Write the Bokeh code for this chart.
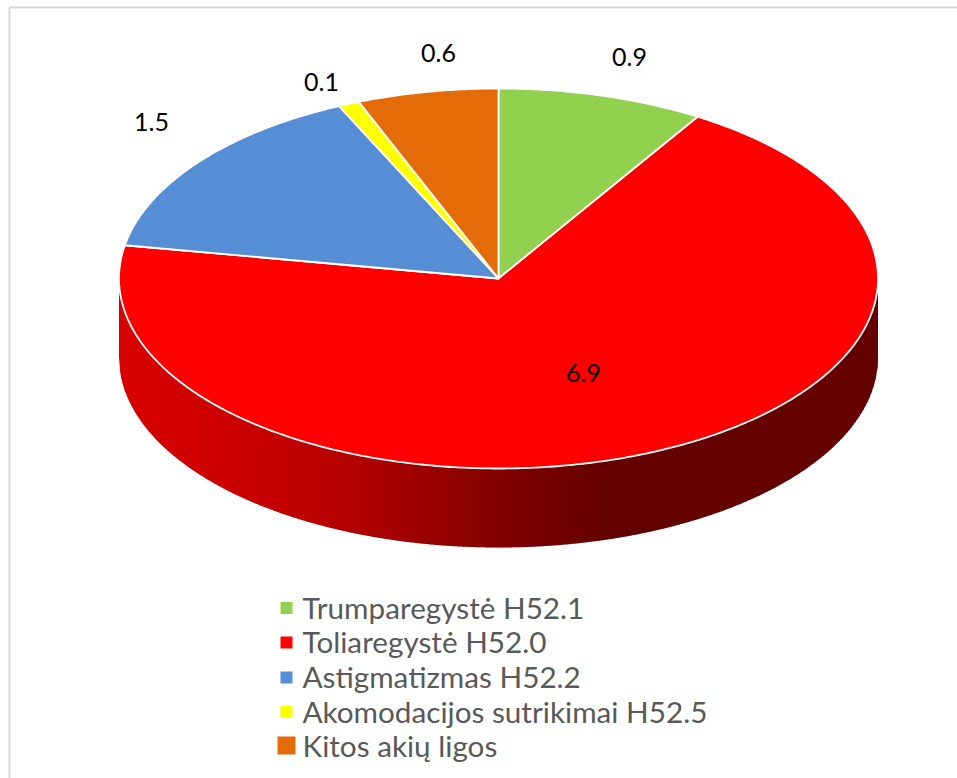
import numpy as np
from bokeh.core.properties import value
from bokeh.embed import file_html
from bokeh.models import ColumnDataSource, Range1d
from bokeh.plotting import figure
from bokeh.resources import INLINE

categories = ["Trumparegystė H52.1", "Toliaregystė H52.0", "Astigmatizmas H52.2",
              "Akomodacijos sutrikimai H52.5", "Kitos akių ligos"]
# slice sizes as read from the drawn wedges; they round to the printed labels
values = [0.88, 6.90, 1.53, 0.09, 0.60]
labels = ["0.9", "6.9", "1.5", "0.1", "0.6"]
colors = ["#92d050", "#ff0000", "#558ed5", "#ffff00", "#e36c09"]

# layout (pixels of the page)
W, H = 957, 778
CX, CY, RX, RY, DEPTH = 498.0, 278.0, 379.5, 190.0, 79.0
label_x = [629, 583, 151, 321, 438]
label_y = [56, 372, 121, 81, 52]
legend_y = [607.5, 642, 677, 711.5, 745]
legend_text_y = [606.5, 641, 676, 710.5, 744.5]
swatch_size = [12, 12, 12, 12, 18]

# side gradient: fraction across the disc -> red channel
grad_pos = [0.0, 0.15, 0.30, 0.476, 0.55, 0.634, 1.0]
grad_red = [216, 204, 180, 135, 118, 102, 100]

p = figure(width=W, height=H, x_range=Range1d(0, W), y_range=Range1d(H, 0),
           toolbar_location=None, output_backend="svg", min_border=0,
           background_fill_color="white", border_fill_color="white",
           outline_line_color=None, x_axis_type=None, y_axis_type=None)
p.grid.visible = False
p.styles = {"position": "absolute", "left": "0", "top": "0"}

# chart frame (left and top edges only)
p.line([9, 9, W], [H, 7, 7], line_color="#d9d9d9", line_width=2)

# rim of the disc: vertical strips coloured along the gradient
edges = np.arange(CX - RX, CX + RX + 2, 2.0)
xs, ys, cs = [], [], []
for x0 in edges[:-1]:
    x1 = min(x0 + 2.6, CX + RX)
    sx = np.linspace(x0, x1, 3)
    u = np.clip((sx - CX) / RX, -1, 1)
    top = CY + RY * np.sqrt(1 - u ** 2)
    xs.append(list(sx) + list(sx[::-1]))
    ys.append(list(top - 2) + list((top + DEPTH)[::-1]))
    r = int(np.interp((x0 - (CX - RX)) / (2 * RX), grad_pos, grad_red))
    cs.append(f"#{r:02x}0000")
p.patches(xs, ys, fill_color=cs, line_color=None)

# top face, wedge shapes derived from the values
fracs = np.cumsum([0] + values) / sum(values)
wx, wy = [], []
for a, b in zip(fracs[:-1], fracs[1:]):
    t = np.linspace(a, b, max(int((b - a) * 720), 4)) * 2 * np.pi
    wx.append([CX] + list(CX + RX * np.sin(t)))
    wy.append([CY] + list(CY - RY * np.cos(t)))
p.patches(wx, wy, fill_color=colors, line_color="white", line_width=1.8, line_join="round")

# value labels
p.text(label_x, label_y, text=labels, text_font=value("Lato"), text_font_size="25px",
       text_color="black", text_align="center", text_baseline="middle")

# legend
p.scatter([286] * 5, legend_y, marker="square", size=swatch_size,
          fill_color=colors, line_color=None)
p.text([302] * 5, legend_text_y, text=categories, text_font=value("Lato"), text_font_size="29.7px",
       text_color="#595959", text_align="left", text_baseline="middle")

open("out.html", "w").write(file_html(p, INLINE))
